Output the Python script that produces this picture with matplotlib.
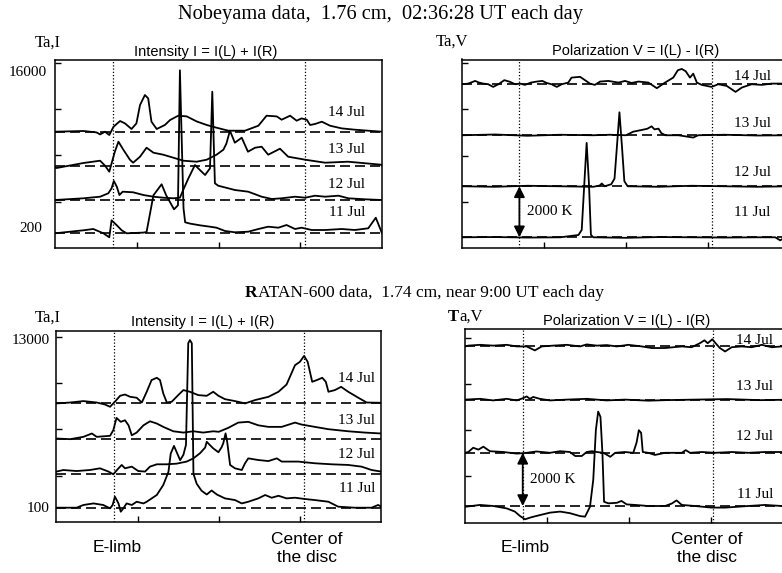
import matplotlib
matplotlib.use("Agg")
import matplotlib.pyplot as plt

SERIF = "Liberation Serif"
SANS = "Liberation Sans"

days = ["11 Jul", "12 Jul", "13 Jul", "14 Jul"]

# x = position along the scan (% of the window), y = K above that day's baseline

# Nobeyama, intensity
nob_i_11_x = [0, 8.7, 11.7, 14.8, 16.6, 17.3, 18.9, 20.4, 21.9, 27.0, 28.0, 30.1, 32.6, 34.0, 36.4,
              37.6, 38.2, 39.3, 39.8, 41.3, 44.3, 47.4, 49.4, 52.0, 55.0, 59.1, 62.2, 65.2, 68.3,
              70.8, 73.4, 75.4, 78.5, 82.6, 87.7, 91.7, 95.8, 98.1, 99.4, 100]
nob_i_11_y = [0, 300, 430, 0, -400, 1300, 800, 300, 0, 70, 130, 3800, 4900, 3800, 2400,
              2800, 16300, 2500, 1100, 970, 800, 660, 560, 230, 100, 160, 430, 660, 560,
              830, 430, 560, 330, 330, 430, 330, 500, 1560, 500, 0]
nob_i_12_x = [0, 8.7, 13.8, 16.3, 17.3, 18.0, 18.9, 19.7, 20.7, 23.9, 27.0, 30.1, 33.1, 36.2, 38.2,
              39.2, 40.8, 42.8, 44.3, 45.9, 47.4, 48.1, 48.9, 49.9, 53.0, 55.0, 59.1, 63.2, 66.3,
              69.3, 73.4, 76.5, 79.5, 82.6, 86.7, 89.7, 94.8, 100]
nob_i_12_y = [0, 170, 330, 670, 1170, 1900, 1330, 500, 830, 770, 500, 330, 230, 170, 230,
              1000, 2170, 3500, 3000, 2500, 3170, 10830, 1670, 1430, 1170, 1000, 830, 330, 100,
              170, 330, 230, 430, 330, 430, 170, 70, 0]
nob_i_13_x = [0, 0.5, 8.7, 13.8, 15.3, 16.6, 18.3, 19.4, 20.9, 22.9, 23.9, 26.0, 28.0, 30.1, 33.1,
              36.2, 39.2, 43.3, 46.4, 49.4, 51.5, 52.4, 53.5, 55.0, 57.1, 59.0, 61.2, 63.2, 65.2,
              68.8, 71.3, 76.5, 82.6, 89.6, 99.7, 100]
nob_i_13_y = [-200, -230, 270, 500, 0, -600, 1400, 2400, 1600, 600, 300, 900, 1800, 1300, 1100,
              800, 500, 400, 600, 1100, 1600, 2200, 3500, 2300, 2800, 1400, 1800, 1900, 1100,
              1700, 900, 600, 300, 400, 100, 0]
nob_i_14_x = [0, 8.7, 12.7, 13.8, 15.3, 16.6, 17.9, 19.9, 21.4, 23.4, 24.9, 26.0, 27.5, 28.5, 29.5,
              31.1, 33.6, 35.2, 37.7, 40.3, 43.3, 46.4, 49.4, 53.0, 58.1, 62.2, 64.7, 67.8, 69.3,
              71.9, 73.9, 75.4, 77.0, 78.0, 79.5, 81.6, 84.1, 87.7, 91.7, 95.8, 100]
nob_i_14_y = [0, 70, -70, -270, 0, -330, 500, 1070, 830, 270, 830, 2670, 3670, 3330, 1000,
              270, 670, 1170, 1600, 1530, 1030, 670, 400, 100, 100, 600, 1600, 1530, 1200,
              1600, 1100, 1330, 1200, 670, 770, 1000, 600, 330, 200, 100, 0]

# Nobeyama, polarization
nob_v_11_x = [0, 10, 20, 30, 35.5, 36.5, 37.3, 38.0, 38.7, 39.3, 40.0, 50, 60, 70, 80, 90, 95.5, 97.0, 98.5, 100]
nob_v_11_y = [0, 10, -10, 0, 90, 290, 2120, 3700, 2120, 100, 0, -20, 10, 0, -10, 0, 0, -120, 0, 0]
nob_v_12_x = [0, 10, 20, 30, 40, 42.0, 42.6, 43.5, 45.5, 46.5, 47.2, 48.0, 48.8, 49.5, 50.5, 60, 70, 80, 90, 100]
nob_v_12_y = [0, -20, 20, 0, -20, 30, 110, 0, 80, 300, 1500, 2900, 1500, 200, 0, -20, 20, 0, -20, 0]
nob_v_13_x = [0, 10, 20, 30, 40, 45, 50, 52.2, 54.5, 56.5, 57.8, 58.7, 59.9, 60.8, 62, 66, 69, 70.5, 72, 80, 90, 100]
nob_v_13_y = [0, 30, -20, 20, 0, 20, 0, 140, 200, 255, 350, 230, 260, 80, 0, 0, -60, -90, 0, 20, -10, 0]
nob_v_14_x = [0, 1.9, 4.0, 5.2, 6.5, 8.0, 9.5, 11.1, 12.9, 14.6, 16.2, 17.7, 19.2, 21.0, 22.8, 24.5,
              25.8, 27.3, 28.9, 30.4, 32.4, 33.4, 36.0, 37.5, 39.0, 40.5, 42.1, 44.6, 47.7, 49.7,
              51.7, 53.8, 56.8, 59.4, 61.9, 64.4, 65.8, 67.0, 68.2, 69.5, 70.5, 71.6, 73.1, 76.1,
              78.1, 80.7, 83.4, 85.3, 88.3, 91.4, 94.4, 97.5, 100]
nob_v_14_y = [0, 25, 130, 65, 25, 0, -105, 0, 160, 95, 0, 25, -25, 65, 105, 130,
              50, 0, -105, 0, 65, 260, 290, 160, 25, -25, 105, 130, 65, 130,
              50, 105, 65, -155, 65, 260, 548, 600, 510, 260, 415, 65, -25, -105,
              0, -65, -300, -130, 0, -25, 25, 25, 0]

# RATAN-600, intensity
rat_i_11_x = [0, 6.2, 8.3, 11.4, 14.4, 16.5, 17.3, 18.0, 19.1, 19.8, 20.6, 21.6, 23.2, 24.7, 26.8,
              27.8, 30.9, 32.9, 34.5, 35.2, 36.2, 37.0, 38.1, 39.1, 39.9, 40.6, 41.1, 41.7, 42.2, 43.2,
              44.7, 46.3, 47.8, 49.4, 51.9, 55.0, 57.1, 59.1, 62.2, 64.3, 66.3, 68.4, 70.9, 73.5,
              76.6, 79.6, 83.8, 86.8, 91.9, 97.1, 99.1, 100]
rat_i_11_y = [0, 0, 210, 330, 210, -50, 210, 850, 330, -310, -50, 330, 210, 460, 330,
              460, 980, 1750, 2770, 4180, 4770, 4310, 3670, 4080, 4850, 12700, 12940, 12700, 2620, 1850,
              1310, 1020, 1330, 1020, 720, 590, 330, 460, 720, 980, 770, 920, 720, 770,
              670, 590, 460, 80, 0, 0, 210, 100]
rat_i_12_x = [0, 2.1, 6.2, 10.3, 13.4, 16.0, 17.5, 19.1, 20.1, 21.1, 23.2, 25.2, 27.3, 28.8, 30.9,
              34.0, 37.0, 40.1, 42.2, 44.2, 45.8, 46.3, 47.1, 48.3, 49.9, 50.9, 51.4, 52.1, 52.6,
              53.5, 55.0, 57.1, 58.1, 59.1, 62.2, 65.3, 67.9, 69.4, 74.5, 79.6, 84.8, 89.9, 94.0,
              97.1, 100]
rat_i_12_y = [210, 330, 250, 330, 460, 210, 0, 460, 720, 460, 590, 250, 210, 590, 770,
              770, 820, 980, 1230, 1620, 2060, 2510, 2300, 2000, 1700, 2100, 2400, 3160, 2500,
              720, 460, 330, 850, 1230, 1100, 1020, 1230, 980, 980, 850, 770, 720, 590,
              330, 210]
rat_i_13_x = [0, 4.2, 8.3, 10.9, 12.4, 16.5, 17.5, 18.5, 19.8, 21.1, 22.2, 23.2, 24.7, 26.8, 28.8,
              30.9, 32.9, 36.0, 39.1, 42.2, 45.2, 48.3, 50.0, 52.9, 56.0, 59.1, 62.2, 65.3, 69.4,
              73.5, 75.5, 79.6, 83.8, 89.9, 95.0, 100]
rat_i_13_y = [0, -50, 130, 390, 130, 210, 640, 1590, 1290, 1410, 1020, 250, 460, 1020, 1330,
              1160, 900, 560, 460, 560, 460, 560, 520, 820, 1230, 1290, 1020, 900, 900,
              1230, 1080, 900, 720, 560, 460, 390]
rat_i_14_x = [0, 4.2, 8.3, 12.4, 14.9, 16.5, 18.0, 19.6, 21.1, 22.7, 24.7, 26.3, 27.8, 29.3, 30.9,
              31.9, 32.9, 34.0, 35.5, 37.5, 39.1, 41.1, 43.7, 46.3, 48.3, 49.9, 51.9, 55.0, 58.1,
              61.2, 65.3, 68.4, 70.9, 73.5, 75.0, 76.3, 77.4, 78.8, 80.2, 81.9, 83.0, 83.8, 85.8,
              87.7, 89.9, 93.0, 95.6, 100]
rat_i_14_y = [-50, 20, 130, 20, -130, -310, 80, 540, 640, 460, 390, 20, 850, 1750, 1930,
              1750, 720, 20, 80, 590, 980, 850, 590, 540, 850, 540, 280, 130, -50,
              210, 460, 850, 1410, 2900, 3160, 3620, 3160, 1620, 1750, 1930, 1620, 850, 980,
              1230, 850, 390, 20, 0]

# RATAN-600, polarization
rat_v_11_x = [0, 4.6, 8.6, 12.7, 15.2, 16.8, 18.3, 20.3, 22.9, 25.9, 29.0, 32.0, 35.1, 36.6, 38.1,
              39.1, 39.9, 40.6, 41.3, 41.9, 42.4, 43.7, 46.3, 47.7, 49.3, 51.8, 55.9, 61.0, 63.0,
              64.5, 66.1, 70.1, 75.2, 79.3, 86.4, 91.5, 96.6, 100]
rat_v_11_y = [-30, 40, 0, -90, -210, -380, -500, -420, -340, -250, -210, -270, -380, -400, -30,
              980, 2860, 3550, 3350, 1980, 160, 100, 120, 190, 60, 40, 0, 0, 90,
              210, 40, 0, -60, -60, 0, 40, 0, 0]
rat_v_12_x = [0, 1.0, 2.5, 4.1, 5.6, 7.6, 11.7, 15.8, 18.8, 21.8, 25.9, 29.0, 32.0, 33.6, 35.6,
              37.1, 38.7, 40.2, 42.2, 44.3, 45.8, 48.7, 51.3, 52.3, 53.0, 53.7, 54.2, 55.9, 57.9,
              61.0, 66.1, 67.3, 68.6, 72.2, 76.2, 81.3, 86.4, 91.5, 100]
rat_v_12_y = [0, 30, 190, 120, 230, 60, 30, -30, 0, 50, 0, 60, 30, -120, -120,
              30, 60, 30, 0, -150, 0, 30, 0, 380, 850, 750, 30, 0, -80,
              0, 0, 100, 0, 30, 0, 30, 0, 30, 30]
rat_v_13_x = [0, 4.6, 8.6, 12.7, 15.8, 17.8, 18.8, 19.8, 20.8, 22.8, 25.9, 31.0, 37.1, 43.2, 48.8,
              56, 61, 70, 80, 90, 100]
rat_v_13_y = [0, 30, -30, 30, -30, 60, 120, 30, 100, 30, -30, 0, 30, -30, 0,
              -40, -20, 0, 20, -20, 0]
rat_v_14_x = [0, 1.0, 4.6, 8.6, 12.7, 15.8, 18.8, 21.3, 23.4, 26.9, 31.0, 35.1, 37.1, 40.2, 43.2,
              46.3, 49.8, 53.9, 56.9, 61.0, 66.1, 69.1, 71.6, 73.0, 74.0, 75.4, 76.4, 77.7, 79.3,
              81.3, 84.4, 87.4, 90.5, 93.5, 96.6, 100]
rat_v_14_y = [0, 30, 60, 30, 60, 0, 0, -150, 0, 30, 60, 0, 75, 30, 50,
              0, 60, 0, -60, -60, 0, -30, 120, 230, 120, 270, 120, -60, -190,
              -30, 0, -30, 60, -30, 0, 0]

# baseline level of each day (11..14 Jul)
nob_i_base = [200, 3530, 6960, 10360]
nob_v_base = [0, 2000, 4000, 6000]
rat_i_base = [100, 2680, 5440, 8200]
rat_v_base = [0, 2000, 4000, 6000]

W, H = 782, 573
fig = plt.figure(figsize=(W / 100, H / 100), dpi=100)


def fx(px):
    return px / W


def fy(py):
    return 1 - py / H


def panel(box, base_row, k, base_val, limbs, xs, ys, bases):
    x0, y0, x1, y1 = box
    ax = fig.add_axes([fx(x0), fy(y1), (x1 - x0) / W, (y1 - y0) / H])
    ax.set_xlim(0, 100)
    ax.set_ylim(base_val - (y1 - base_row) * k, base_val + (base_row - y0) * k)
    ax.set_xticks([25, 50, 75])
    ax.set_yticks([base_val + (base_row - (y1 - n * 46.3)) * k for n in range(1, 5)])
    ax.tick_params(direction="in", length=4, width=1, labelbottom=False, labelleft=False)
    for s in ax.spines.values():
        s.set_linewidth(1.1)
    for d in limbs:
        ax.axvline(d, color="k", lw=0.9, ls=(0, (1, 1.6)))
    for x, y, b in zip(xs, ys, bases):
        ax.axhline(b, color="k", lw=1.2, ls=(0, (6, 3)))
        ax.plot(x, [v + b for v in y], color="k", lw=1.3, solid_joinstyle="round")
    return ax


ax_tl = panel((55, 60, 382, 248), 233.3, 100, 200, [17.7, 76.5],
              [nob_i_11_x, nob_i_12_x, nob_i_13_x, nob_i_14_x],
              [nob_i_11_y, nob_i_12_y, nob_i_13_y, nob_i_14_y], nob_i_base)
ax_tr = panel((462, 59.5, 790, 248.3), 237.3, 39.2, 0, [17.5, 76.3],
              [nob_v_11_x, nob_v_12_x, nob_v_13_x, nob_v_14_x],
              [nob_v_11_y, nob_v_12_y, nob_v_13_y, nob_v_14_y], nob_v_base)
ax_bl = panel((56.5, 331, 381, 522), 507.7, 77.2, 100, [17.7, 76.3],
              [rat_i_11_x, rat_i_12_x, rat_i_13_x, rat_i_14_x],
              [rat_i_11_y, rat_i_12_y, rat_i_13_y, rat_i_14_y], rat_i_base)
ax_br = panel((465, 329.3, 793, 522.7), 506, 37.6, 0, [17.6, 75.7],
              [rat_v_11_x, rat_v_12_x, rat_v_13_x, rat_v_14_x],
              [rat_v_11_y, rat_v_12_y, rat_v_13_y, rat_v_14_y], rat_v_base)

# 2000 K scale arrows
for ax, xa in [(ax_tr, 17.5), (ax_br, 17.6)]:
    ax.annotate("", xy=(xa, 0), xytext=(xa, 2000),
                arrowprops=dict(arrowstyle="<|-|>", color="k", lw=1.3,
                                mutation_scale=16, shrinkA=0, shrinkB=0))
    ax.text(xa + 2.3, 1000, "2000 K", family=SERIF, fontsize=11, va="center", ha="left")

# day labels
for ax_x, rows in [(347, [212, 184, 150, 112]), (752, [213, 172, 124, 76]),
                   (357, [489, 454, 420, 378]), (755, [494, 436, 387, 340])]:
    for d, r in zip(days, rows):
        fig.text(fx(ax_x), fy(r), d, family=SERIF, fontsize=11, ha="center", va="center")

# headings
fig.text(fx(380), fy(15), "Nobeyama data,  1.76 cm,  02:36:28 UT each day",
         family=SERIF, fontsize=14.7, ha="center", va="center")
tR = fig.text(fx(245), fy(293), "R", family=SERIF, fontsize=12.5, fontweight="bold",
              ha="left", va="center")

for cx, cy, t in [(206, 52, "Intensity I = I(L) + I(R)"), (636, 51, "Polarization V = I(L) - I(R)"),
                  (203, 322, "Intensity I = I(L) + I(R)"), (627, 321, "Polarization V = I(L) - I(R)")]:
    fig.text(fx(cx), fy(cy), t, family=SANS, fontsize=10.5, ha="center", va="center")

fig.text(fx(48), fy(43), "Ta,I", family=SERIF, fontsize=12, ha="center", va="center")
fig.text(fx(452), fy(42), "Ta,V", family=SERIF, fontsize=12, ha="center", va="center")
fig.text(fx(48), fy(318), "Ta,I", family=SERIF, fontsize=12, ha="center", va="center")
tT = fig.text(fx(448), fy(317), "T", family=SERIF, fontsize=12, fontweight="bold",
              ha="left", va="center")

fig.text(fx(47), fy(73), "16000", family=SERIF, fontsize=11, ha="right", va="center")
fig.text(fx(42), fy(228), "200", family=SERIF, fontsize=11, ha="right", va="center")
fig.text(fx(50), fy(341), "13000", family=SERIF, fontsize=11, ha="right", va="center")
fig.text(fx(50), fy(508), "100", family=SERIF, fontsize=11, ha="right", va="center")

for cx in (117, 525):
    fig.text(fx(cx), fy(547), "E-limb", family=SANS, fontsize=12.5, ha="center", va="center")
for cx in (307, 707):
    fig.text(fx(cx), fy(548), "Center of\nthe disc", family=SANS, fontsize=12.5,
             ha="center", va="center", linespacing=1.25)

# rest of the headings goes right after their bold first letters
fig.canvas.draw()
r = fig.canvas.get_renderer()
for first, rest, size in [(tR, "ATAN-600 data,  1.74 cm, near 9:00 UT each day", 12.5), (tT, "a,V", 12)]:
    bb = first.get_window_extent(r)
    fig.text(bb.x1 / W, (bb.y0 + bb.y1) / 2 / H, rest, family=SERIF, fontsize=size,
             ha="left", va="center")

fig.savefig("out.png", dpi=100)
